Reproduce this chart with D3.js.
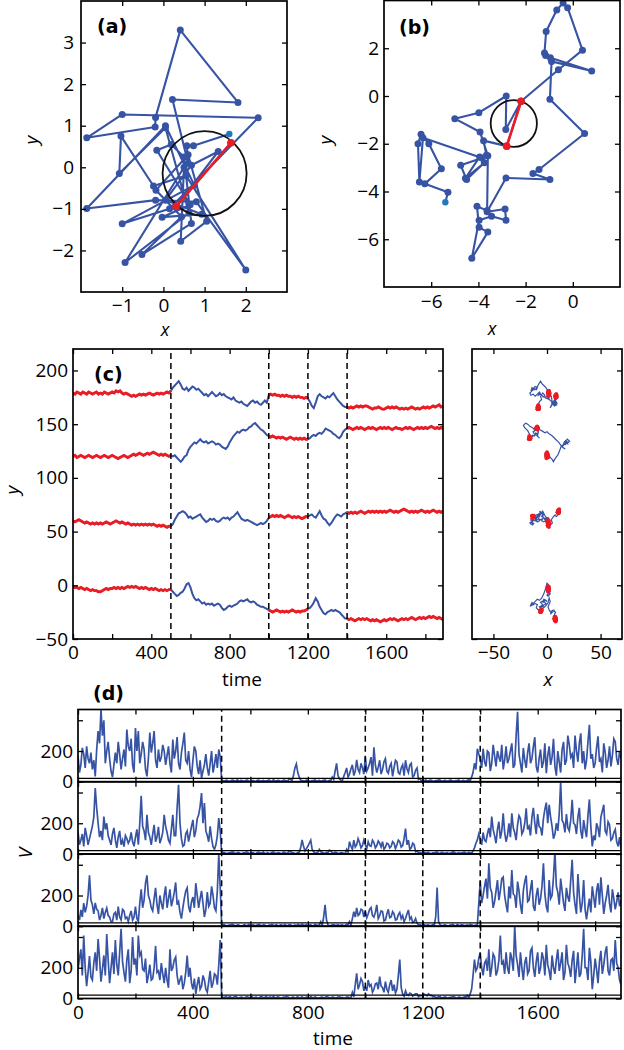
<!DOCTYPE html>
<html><head><meta charset="utf-8">
<script src="https://cdn.jsdelivr.net/npm/d3@7"></script>
<style>body{margin:0;background:#fff}svg{display:block}</style>
</head><body>
<svg id="fig" width="624" height="1050"></svg>
<script>
// ---------------- DATA ----------------
// (a) trajectory (x,y); first point = start, last two points = highlighted step
const trajA = [
[1.6,0.8],[0.73,0.52],[0.57,0.52],[0.6,0.1],[0.22,1.63],[1.81,1.56],[0.41,3.3],[-0.19,1.2],[-0.2,0.97],[-1.86,0.71],
[-1.0,1.27],[2.3,1.19],[0.15,-1.0],[-1.0,-1.36],[0.75,-0.43],[0.05,1.0],[-1.86,-0.99],[-0.19,-0.79],[0.8,-0.83],[2.0,-2.47],
[0.55,-0.2],[-0.24,-0.45],[-1.03,0.75],[-1.07,-0.15],[0.05,0.95],[0.62,-1.1],[-0.93,-2.29],[0.5,0.0],[0.42,-1.78],[1.05,-1.3],
[0.6,0.3],[-0.18,-0.55],[0.44,-1.19],[-0.52,-2.1],[0.68,-1.35],[0.5,0.25],[0.19,0.55],[-0.16,0.41],[0.65,-0.9],[-0.03,-1.2],
[0.93,-1.13],[0.05,-0.79],[0.68,0.05],[1.33,0.38],[0.31,-0.94],[1.64,0.59]];
const redStepA = [44,45];
const circleA = [1.0,-0.15,1.02]; // cx, cy, r (data units)

// (b) trajectory
const trajB = [
[-5.4,-4.45],[-5.29,-4.03],[-6.27,-3.68],[-5.57,-3.05],[-6.1,-2.0],[-6.43,-1.6],[-6.56,-2.0],[-6.5,-3.6],[-6.35,-1.75],[-3.85,-2.6],
[-4.75,-2.9],[-4.5,-3.5],[-3.75,-2.8],[-4.55,-3.45],[-3.95,-2.55],[-3.66,-2.48],[-3.78,-1.87],[-2.8,-2.1],[-2.19,-0.22],[-2.84,-1.4],
[-2.82,0.0],[-3.98,-0.7],[-5.0,-0.95],[-3.93,-1.51],[-3.6,-2.5],[-3.63,-4.8],[-4.06,-4.62],[-3.97,-5.5],[-3.6,-5.7],[-4.28,-6.8],
[-3.97,-5.2],[-3.44,-5.04],[-2.83,-5.2],[-2.87,-4.73],[-3.63,-4.85],[-2.83,-3.43],[-0.97,-3.5],[-1.69,-3.25],[-1.43,-3.08],[0.5,-1.57],
[-0.97,-0.14],[-0.9,1.45],[0.8,1.05],[-0.95,1.6],[-1.15,1.7],[-1.2,1.8],[-1.13,2.7],[-0.68,3.6],[-0.41,3.9],[-0.22,3.7],
[0.41,1.92],[-0.61,1.1],[-2.19,-0.22]];
const redStepB = [17,18];
const circleB = [-2.5,-1.15,0.98];

// (c) sampled every 10 time units, (d) every 5 time units, t = 0..1890
const TIME_STEP_C = 10, TIME_STEP_D = 5;
const switchTimes = [500,1000,1200,1400];
const redPeriods = [[0,500],[1000,1200],[1400,1890]];
const timeTicks = [0,200,400,600,800,1000,1200,1400,1600,1800];
const timeLabels = [0,400,800,1200,1600];

// (c) y positions of the four particles
const cY1 = [179,178,180,179,178,180,179,178,180,179,178,179,180,178,179,178,180,179,178,179,180,179,181,180,181,179,178,179,178,177,176,177,176,177,178,177,178,177,178,179,178,177,178,179,178,179,178,179,180,179,
181,184,186,188,190,187,183,182,184,181,183,185,184,182,183,181,179,177,178,176,178,180,178,176,177,179,177,178,176,175,174,173,175,172,171,170,171,169,168,167,169,171,172,170,171,169,168,170,172,170,
177,178,177,178,177,177,176,177,176,177,176,176,175,176,175,176,175,175,174,175,
174,171,167,165,170,176,178,176,175,174,176,175,177,179,176,173,171,169,167,166,
166,165,166,165,166,167,166,167,166,167,167,166,165,164,165,165,166,165,164,164,165,166,165,166,165,166,165,164,165,164,165,164,165,166,165,164,165,164,165,166,165,166,165,166,167,166,167,168,166,167];
const cY2 = [120,121,119,120,121,120,119,120,121,120,119,120,121,120,119,120,121,120,119,120,121,120,119,118,119,120,121,120,119,120,121,122,121,122,123,122,121,122,123,122,123,124,123,122,121,122,121,122,121,120,
121,120,121,119,117,115,117,120,121,126,129,131,133,132,134,136,134,133,134,132,133,134,133,131,132,131,129,128,127,129,133,136,139,141,143,142,144,145,144,145,147,148,150,151,149,147,145,144,142,140,
139,138,139,138,137,138,137,138,137,136,137,138,137,136,137,136,137,136,137,136,
136,137,139,140,139,141,142,141,143,146,145,144,143,141,140,138,137,139,143,145,
146,147,146,145,146,147,146,147,146,145,146,147,146,147,146,145,146,147,146,147,146,147,146,145,146,147,146,146,145,146,147,146,147,146,145,146,147,146,147,146,147,146,147,148,147,146,147,146,147,146];
const cY3 = [60,59,60,61,60,59,58,59,58,57,58,57,58,57,58,57,58,59,58,57,58,59,60,59,58,59,58,57,58,57,56,57,56,57,56,57,56,57,56,57,56,57,56,55,56,55,56,55,54,55,
55,57,61,64,67,68,69,68,66,63,64,62,63,64,65,66,63,61,59,60,62,61,62,60,59,60,62,63,62,63,61,63,64,66,68,65,62,61,60,61,60,59,58,57,56,57,58,57,58,60,
63,64,65,64,65,64,65,64,63,64,65,64,63,64,63,64,63,62,63,64,
64,65,66,64,63,66,69,65,62,61,58,56,58,61,64,66,65,64,66,67,
68,67,68,67,68,67,68,69,68,67,68,69,68,69,68,69,68,69,68,69,68,69,70,69,68,69,68,69,70,71,70,69,68,69,68,69,68,69,70,69,68,69,68,69,70,69,68,69,68,69];
const cY4 = [-1,-2,-2,-3,-2,-3,-4,-3,-4,-5,-4,-5,-5,-6,-6,-5,-4,-3,-4,-3,-3,-2,-3,-2,-3,-2,-3,-2,-1,-2,-1,-2,-1,-2,-3,-2,-3,-2,-3,-4,-3,-4,-3,-4,-5,-4,-5,-4,-5,-4,
-4,-6,-8,-10,-9,-7,-6,-3,1,2,-2,-8,-12,-14,-13,-15,-17,-16,-18,-17,-18,-17,-19,-18,-17,-18,-21,-23,-22,-20,-19,-20,-19,-18,-17,-15,-14,-15,-14,-13,-15,-16,-15,-16,-18,-19,-20,-20,-21,-22,
-23,-24,-25,-24,-23,-24,-25,-24,-25,-24,-25,-24,-23,-24,-25,-24,-25,-24,-24,-23,
-22,-21,-19,-16,-12,-15,-20,-23,-26,-27,-25,-24,-23,-24,-23,-24,-25,-27,-29,-31,
-31,-32,-31,-32,-33,-32,-31,-32,-31,-32,-31,-32,-33,-32,-33,-32,-33,-34,-33,-32,-33,-32,-31,-32,-31,-32,-33,-32,-31,-32,-31,-32,-31,-30,-31,-32,-31,-30,-31,-30,-31,-30,-29,-30,-29,-30,-31,-30,-31,-32];

// (c, right) x positions of the four particles
const cX1 = [1.6,2.1,1.2,1.8,2.4,1.5,1.0,1.9,2.3,1.4,1.7,2.2,1.1,1.6,2.0,1.3,1.8,2.5,1.5,1.2,1.9,2.2,1.4,1.7,2.1,1.0,1.6,2.3,1.8,1.3,1.5,2.0,1.2,1.9,2.4,1.6,1.1,1.8,2.2,1.4,1.7,2.1,1.3,1.6,2.0,1.5,1.9,1.2,1.7,1.4,
1,-1,-3,-5,-6,-8,-10,-12,-14,-15,-13,-11,-9,-10,-12,-14,-16,-15,-13,-11,-9,-7,-6,-4,-5,-7,-8,-6,-4,-2,0,2,1,3,5,4,6,8,9,7,5,6,8,9,7,6,8,9,8,7.5,
8.2,8.9,7.6,8.4,9.1,7.9,8.3,8.8,7.5,8.1,8.6,9.0,7.8,8.2,8.7,7.7,8.4,9.2,8.0,8.5,
8,6,4,3,5,4,2,0,-2,-1,-3,-4,-2,-4,-6,-5,-7,-8,-7,-8,
-8.2,-7.6,-8.8,-8.1,-7.4,-8.5,-9.0,-7.9,-8.3,-7.7,-8.6,-8.0,-7.5,-8.9,-8.2,-7.8,-8.4,-9.1,-7.6,-8.0,-8.7,-8.1,-7.3,-8.5,-8.0,-7.9,-8.6,-9.0,-8.2,-7.7,-8.4,-8.0,-7.5,-8.8,-8.3,-7.6,-8.5,-8.9,-8.1,-7.8,-8.3,-8.7,-7.9,-8.2,-8.6,-7.7,-8.4,-8.0,-8.8,-8.1];
const cX2 = [0.2,-0.5,0.7,0.1,-0.8,0.4,0.9,-0.3,0.0,0.6,-0.6,0.3,0.8,-0.2,0.5,-0.7,0.1,0.6,-0.4,0.2,0.9,-0.1,0.4,-0.6,0.7,0.0,-0.3,0.5,0.8,-0.5,0.3,-0.2,0.6,0.1,-0.7,0.4,0.8,-0.1,0.2,-0.4,0.5,0.0,-0.6,0.7,0.3,-0.2,0.6,-0.5,0.1,0.4,
0,1,2,3,5,6,7,9,10,12,13,15,16,18,17,19,21,20,18,19,17,16,18,17,15,16,14,15,17,14,11,8,5,2,0,-2,-5,-7,-9,-11,-14,-16,-18,-20,-22,-21,-19,-18,-17,-16,
-16.2,-15.5,-16.8,-16.0,-15.3,-16.5,-17.0,-15.8,-16.3,-15.6,-16.7,-16.1,-15.4,-16.9,-16.2,-15.7,-16.4,-17.1,-15.9,-16.3,
-16,-15,-13,-14,-12,-10,-11,-9,-8,-10,-12,-11,-13,-12,-10,-8,-7,-9,-8,-9,
-9.2,-8.6,-9.8,-9.1,-8.4,-9.5,-10.0,-8.9,-9.3,-8.7,-9.6,-9.0,-8.5,-9.9,-9.2,-8.8,-9.4,-10.1,-8.6,-9.0,-9.7,-9.1,-8.3,-9.5,-9.0,-8.9,-9.6,-10.0,-9.2,-8.7,-9.4,-9.0,-8.5,-9.8,-9.3,-8.6,-9.5,-9.9,-9.1,-8.8,-9.3,-9.7,-8.9,-9.2,-9.6,-8.7,-9.4,-9.0,-9.8,-9.1];
const cX3 = [1.1,0.6,1.5,0.9,1.8,1.2,0.4,1.0,1.6,0.7,1.3,0.8,1.7,1.1,0.5,1.4,0.9,1.8,1.2,0.6,1.0,1.5,0.7,1.3,1.9,1.1,0.5,1.2,1.6,0.8,1.4,0.9,1.7,1.0,0.6,1.3,1.8,0.8,1.1,1.5,0.7,1.2,1.6,0.9,1.4,1.0,0.5,1.3,1.7,1.1,
1,0,-2,-4,-3,-5,-7,-6,-8,-10,-12,-11,-13,-15,-14,-12,-10,-11,-9,-7,-8,-6,-4,-5,-3,-1,-2,0,2,1,-1,-3,-5,-4,-6,-8,-10,-9,-11,-13,-15,-14,-16,-15,-13,-14,-12,-13,-14,-13,
-13.2,-12.5,-13.8,-13.0,-12.4,-13.5,-14.0,-12.8,-13.3,-12.6,-13.7,-13.1,-12.4,-13.9,-13.2,-12.7,-13.4,-14.1,-12.9,-13.3,
-13,-11,-9,-7,-8,-6,-4,-2,0,2,1,3,5,4,6,8,7,9,10,10,
10.5,11.1,9.9,10.7,11.3,10.2,9.8,10.9,11.2,10.4,10.8,11.4,10.1,10.6,11.0,9.9,10.5,11.2,10.3,10.9,11.3,10.2,10.7,11.0,9.8,10.6,11.1,10.4,10.8,11.5,10.3,10.9,10.1,10.6,11.2,10.5,9.9,10.8,11.1,10.4,10.7,11.3,10.0,10.6,10.9,10.3,11.0,10.5,10.8,10.2];
const cX4 = [0.9,1.4,0.5,1.1,1.7,0.8,1.3,0.6,1.5,1.0,0.4,1.2,1.8,0.9,1.4,0.7,1.1,1.6,0.5,1.0,1.3,0.8,1.7,1.2,0.6,1.4,0.9,1.5,1.1,0.7,1.6,1.0,0.5,1.3,1.8,0.9,1.2,0.6,1.4,1.1,0.8,1.5,1.0,0.7,1.3,1.6,0.9,1.2,0.5,1.0,
1,2,3,1,0,2,3,2,1,0,-1,-3,-5,-7,-9,-11,-13,-14,-15,-13,-12,-14,-15,-13,-11,-9,-10,-8,-6,-7,-5,-3,-4,-2,-1,-3,-2,0,-1,-3,-4,-3,-5,-6,-4,-5,-6,-5,-6,-5,
-5.6,-5.0,-6.2,-5.4,-4.9,-6.0,-6.4,-5.3,-5.8,-5.1,-6.1,-5.5,-4.8,-6.3,-5.7,-5.2,-5.9,-6.5,-5.4,-5.7,
-5,-3,-1,1,2,3,1,2,4,3,5,4,6,5,7,6,8,7,8,7,
7.5,8.1,6.9,7.7,8.3,7.2,6.8,7.9,8.2,7.4,7.8,8.4,7.1,7.6,8.0,6.9,7.5,8.2,7.3,7.9,8.3,7.2,7.7,8.0,6.8,7.6,8.1,7.4,7.8,8.5,7.3,7.9,7.1,7.6,8.2,7.5,6.9,7.8,8.1,7.4,7.7,8.3,7.0,7.6,7.9,7.3,8.0,7.5,7.8,7.2];

// (d) V of the four particles, every 5 time units
const dV1 = [
170,60,110,220,180,90,230,150,120,190,80,140,35,210,330,250,470,300,400,120,
200,260,150,70,30,110,190,120,260,180,80,150,210,100,340,230,200,280,110,60,
350,200,330,120,180,260,210,80,35,150,320,190,250,330,140,90,210,130,160,240,
200,110,170,230,120,60,275,150,200,290,120,80,190,250,320,140,120,200,80,30,
140,230,200,100,50,140,24,70,110,180,90,40,120,200,60,110,180,90,210,160,
12,6,4,10,8,2,3,9,10,5,6,12,2,7,9,4,5,10,11,3,
4,8,7,2,3,11,10,5,6,9,2,6,8,12,5,3,12,7,3,9,
7,2,4,10,9,6,5,20,14,8,40,90,116,60,30,10,8,4,5,11,
10,3,4,8,7,12,3,6,9,4,6,10,12,3,5,9,8,30,15,70,
120,40,20,10,8,35,60,90,30,50,85,110,40,70,142,80,60,120,90,50,
164,70,90,120,160,40,224,110,60,95,140,50,80,130,150,70,55,100,120,35,
90,140,130,60,50,90,110,40,140,85,60,110,120,30,40,75,90,15,20,8,
8,4,12,6,5,10,9,3,3,8,7,12,11,5,4,9,8,2,6,11,
10,4,3,7,7,12,5,3,9,6,4,10,12,8,30,60,120,80,215,180,
150,90,215,130,100,200,190,70,120,240,170,100,200,160,130,240,80,140,230,120,
150,200,250,90,110,300,455,180,120,60,220,140,90,190,250,120,150,230,290,100,
60,150,210,90,130,250,55,170,230,110,160,280,100,40,200,130,60,210,260,110,
140,300,240,160,180,90,300,200,130,250,315,120,200,80,140,260,370,150,180,90,
120,220,295,130,150,60,250,190,90,140,230,100,170,280,260,150,110,200,150];
const dV2 = [
145,60,90,130,50,170,120,60,100,140,180,240,429,300,200,110,150,90,244,160,
200,120,90,60,130,170,92,40,110,150,60,90,48,120,100,70,90,140,80,50,
110,160,60,200,378,180,150,90,255,140,110,60,130,190,80,110,176,70,100,140,
255,180,140,90,70,160,255,120,120,300,450,200,100,50,60,130,150,80,130,180,
222,110,150,230,255,310,396,200,331,150,120,80,180,100,48,30,60,120,233,150,
6,11,10,4,3,8,8,13,12,5,4,9,9,3,2,7,7,12,11,4,
5,9,8,2,3,10,10,6,6,12,2,5,9,3,4,11,12,6,5,8,
7,4,3,12,10,5,6,20,14,9,8,3,4,10,9,40,92,50,20,35,
50,70,90,30,15,6,8,12,30,15,12,5,5,10,9,25,20,8,6,12,
10,3,4,9,8,5,3,30,12,80,50,30,90,45,60,100,75,40,55,90,
60,35,80,55,50,90,75,40,55,85,70,45,80,30,45,70,65,40,50,80,
70,35,60,90,80,45,55,100,165,60,90,30,40,70,60,15,20,8,10,5,
8,12,5,9,10,4,3,7,7,11,12,5,4,10,9,3,6,8,2,6,
8,13,11,4,5,9,3,7,9,12,6,3,10,8,4,20,40,70,92,130,
100,60,140,90,80,130,170,110,244,160,120,70,160,210,100,150,265,140,80,120,
200,110,265,170,140,90,190,250,230,130,150,200,297,160,180,120,240,300,200,130,
260,180,170,120,230,290,334,200,320,240,180,100,130,200,150,260,470,220,200,140,
260,170,150,220,353,200,190,130,240,300,150,100,220,160,110,250,355,180,50,120,
90,200,170,110,240,280,320,150,130,210,190,90,100,140,160,80,50,110,30];
const dV3 = [
72,40,106,60,151,90,130,200,331,170,140,80,152,110,100,40,70,120,50,90,
118,70,60,30,30,80,90,40,128,60,40,110,100,50,60,30,70,100,40,60,
128,50,30,150,240,120,170,280,331,200,170,120,100,180,250,140,80,200,150,110,
200,260,120,180,240,130,170,220,285,140,160,90,50,120,180,230,250,130,90,160,
190,120,280,200,120,180,230,150,60,110,223,130,150,260,200,120,100,230,466,250,
5,10,9,3,3,8,7,12,11,4,4,9,8,2,2,7,10,5,6,11,
3,8,9,4,5,10,12,6,4,9,7,3,2,8,8,12,6,3,10,5,
3,9,7,2,11,5,4,10,9,3,5,8,2,11,8,4,12,6,6,10,
4,7,9,3,3,12,7,5,10,30,5,60,139,40,8,3,4,9,11,6,
6,10,3,8,9,4,5,12,12,30,7,50,95,60,120,70,80,110,105,60,
100,55,80,110,122,70,60,90,139,50,70,100,95,35,40,80,110,55,60,95,
80,40,45,75,90,50,70,30,50,80,106,45,60,25,30,50,20,10,10,6,
6,10,3,7,9,4,5,11,8,60,252,30,10,5,4,9,7,3,2,8,
9,12,5,3,11,7,3,10,8,4,6,9,4,12,10,5,5,8,7,150,
295,150,200,260,310,180,410,250,220,120,160,230,300,170,230,310,320,200,140,90,
260,180,365,210,200,120,290,230,140,80,230,290,330,160,170,240,300,130,100,200,
250,140,180,260,410,210,130,90,300,180,200,320,490,260,220,140,310,230,150,100,
250,190,160,300,432,220,140,80,340,200,90,150,300,110,45,120,180,90,260,190,
120,230,280,140,318,200,80,150,200,270,150,90,240,180,110,160,220,130,170];
const dV4 = [
187,260,320,150,409,200,80,170,276,140,120,230,300,180,387,260,110,190,280,150,
420,250,100,200,300,160,380,220,150,300,453,240,170,110,250,320,100,180,400,220,
260,150,409,280,300,190,180,260,100,150,220,120,130,200,342,170,180,120,230,160,
100,200,120,70,320,180,200,250,270,150,90,120,150,60,100,170,280,140,200,100,
60,130,30,90,140,60,80,150,120,60,40,110,180,70,100,160,150,90,220,380,
15,6,8,12,4,9,10,3,6,11,12,5,3,8,9,2,5,10,11,4,
7,12,2,6,8,3,4,10,10,5,6,12,3,8,9,4,12,6,5,10,
8,3,4,9,7,12,11,5,3,8,9,2,6,11,2,7,10,4,5,9,
8,3,12,6,4,10,7,2,3,8,9,5,6,12,10,4,5,9,8,3,
4,10,11,5,7,2,3,9,9,5,6,40,12,90,164,60,90,130,110,50,
76,50,120,80,90,40,60,95,100,60,142,80,70,40,110,60,40,90,120,50,
90,35,60,150,253,70,30,15,50,25,20,35,30,15,25,30,30,12,20,18,
20,28,25,18,30,20,22,12,15,6,8,11,12,4,5,9,9,3,4,8,
7,12,10,5,3,9,8,4,6,11,9,20,4,30,60,150,253,180,200,260,
298,200,150,230,250,180,320,140,200,290,270,150,180,250,409,220,240,160,300,200,
160,300,260,180,475,280,220,140,300,200,120,230,270,160,180,310,330,200,140,240,
300,160,200,300,260,150,350,220,180,120,280,200,160,250,320,180,230,300,120,170,
350,230,200,140,250,310,100,200,300,140,160,280,453,200,200,120,330,240,60,150,
260,190,100,240,310,160,220,300,340,180,150,250,260,180,380,230,200,120,90];
const dThreshold = 21.5; // horizontal reference line drawn in every (d) subplot

// ---------------- DRAWING ----------------
const BLUE = "#3753a4", RED = "#ec1c24", START = "#1f78c0";
const FONT = "'Open Sans', sans-serif", FS = 19, TL = 5;
const BFONT = "'DejaVu Sans', sans-serif";
const svg = d3.select("#fig");
const defs = svg.append("defs");
let clipN = 0;
function clip(x, y) {
  const id = "clip" + (clipN++);
  const [xl, xr] = x.range(), [yb, yt] = y.range();
  defs.append("clipPath").attr("id", id).append("rect")
    .attr("x", xl).attr("y", yt).attr("width", xr - xl).attr("height", yb - yt);
  return `url(#${id})`;
}
const fmt = d3.format("d");
function drawAxes(g, x, y, o) {
  const [xl, xr] = x.range(), [yb, yt] = y.range();
  const none = () => "";
  const list = [
    [d3.axisBottom(x).tickValues(o.xt).tickFormat(o.xf || none).tickPadding(o.xpad || 8), `translate(0,${yb})`],
    [d3.axisTop(x).tickValues(o.xt).tickFormat(none), `translate(0,${yt})`],
    [d3.axisLeft(y).tickValues(o.yt).tickFormat(o.yf || none).tickPadding(o.ypad || 5), `translate(${xl},0)`],
    [d3.axisRight(y).tickValues(o.yt).tickFormat(none), `translate(${xr},0)`]
  ];
  list.forEach(([a, tr]) => {
    const gg = g.append("g").attr("transform", tr).call(a.tickSizeInner(-TL).tickSizeOuter(0));
    gg.select(".domain").remove();
    gg.attr("font-family", FONT).attr("font-size", FS);
    gg.selectAll("line").attr("stroke", "#000").attr("stroke-width", 1.3);
    gg.selectAll("text").attr("fill", "#000");
  });
  g.append("rect").attr("x", xl).attr("y", yt).attr("width", xr - xl).attr("height", yb - yt)
    .attr("fill", "none").attr("stroke", "#000").attr("stroke-width", 1.7);
}
function label(txt, x, y, o = {}) {
  const t = svg.append("text").text(txt)
    .attr("font-family", o.bold ? BFONT : FONT).attr("font-size", o.size || FS)
    .attr("font-style", o.italic ? "italic" : "normal")
    .attr("font-weight", o.bold ? "bold" : "normal")
    .attr("text-anchor", o.anchor || "middle").attr("fill", "#000");
  if (o.rot) t.attr("transform", `translate(${x},${y}) rotate(-90)`);
  else t.attr("x", x).attr("y", y);
}

// --- trajectory panels (a), (b)
function trajPanel(traj, redStep, circ, x, y, o) {
  const g = svg.append("g");
  const pg = g.append("g").attr("clip-path", clip(x, y));
  const line = d3.line().x(d => x(d[0])).y(d => y(d[1]));
  pg.append("path").attr("d", line(traj)).attr("fill", "none").attr("stroke", BLUE).attr("stroke-width", 2.1).attr("stroke-linejoin", "round");
  pg.selectAll("circle.p").data(traj.slice(1)).join("circle").attr("class", "p")
    .attr("cx", d => x(d[0])).attr("cy", d => y(d[1])).attr("r", 3.5).attr("fill", BLUE);
  pg.append("circle").attr("cx", x(traj[0][0])).attr("cy", y(traj[0][1])).attr("r", 3.2).attr("fill", START);
  pg.append("ellipse").attr("cx", x(circ[0])).attr("cy", y(circ[1]))
    .attr("rx", x(circ[0] + circ[2]) - x(circ[0])).attr("ry", y(circ[1]) - y(circ[1] + circ[2]))
    .attr("fill", "none").attr("stroke", "#111").attr("stroke-width", 1.8);
  const rs = redStep.map(i => traj[i]);
  pg.append("path").attr("d", line(rs)).attr("stroke", RED).attr("stroke-width", 2.6);
  pg.selectAll("circle.r").data(rs).join("circle").attr("class", "r")
    .attr("cx", d => x(d[0])).attr("cy", d => y(d[1])).attr("r", 3.8).attr("fill", RED);
  drawAxes(g, x, y, o);
}
const xA = d3.scaleLinear([-2, 3], [81, 287]), yA = d3.scaleLinear([-3, 4], [292, 1]);
trajPanel(trajA, redStepA, circleA, xA, yA, {xt: [-1, 0, 1, 2], yt: [-2, -1, 0, 1, 2, 3], xf: fmt, yf: fmt, xpad: 7, ypad: 7});
const xB = d3.scaleLinear([-8, 2], [384, 620]), yB = d3.scaleLinear([-8, 4], [287, 0.5]);
trajPanel(trajB, redStepB, circleB, xB, yB, {xt: [-6, -4, -2, 0], yt: [-6, -4, -2, 0, 2], xf: fmt, yf: fmt, xpad: 8, ypad: 5});
label("(a)", 97, 33, {bold: true, anchor: "start"});
label("(b)", 399, 34, {bold: true, anchor: "start"});
label("x", 165, 336, {italic: true, size: 18});
label("y", 38, 140, {italic: true, rot: true});
label("x", 492, 335, {italic: true, size: 18});
label("y", 332, 140, {italic: true, rot: true});

// --- (c) time series
const cYs = [cY1, cY2, cY3, cY4], cXs = [cX1, cX2, cX3, cX4];
const isRed = t => redPeriods.some(([a, b]) => t >= a && t <= b);
const xC = d3.scaleLinear([0, 1890], [73, 443]), yC = d3.scaleLinear([-50, 220], [639, 349]);
{
  const g = svg.append("g");
  const pg = g.append("g").attr("clip-path", clip(xC, yC));
  const line = d3.line().x(d => xC(d[0])).y(d => yC(d[1]));
  cYs.forEach(s => {
    const pts = s.map((v, i) => [i * TIME_STEP_C, v]);
    pg.append("path").attr("d", line(pts)).attr("fill", "none").attr("stroke", BLUE).attr("stroke-width", 2.0);
    redPeriods.forEach(([a, b]) => {
      pg.append("path").attr("d", line(pts.filter(p => p[0] >= a && p[0] <= b)))
        .attr("fill", "none").attr("stroke", RED).attr("stroke-width", 2.9);
    });
  });
  pg.selectAll("line.sw").data(switchTimes).join("line").attr("class", "sw")
    .attr("x1", d => xC(d)).attr("x2", d => xC(d)).attr("y1", yC.range()[0]).attr("y2", yC.range()[1])
    .attr("stroke", "#000").attr("stroke-width", 1.5).attr("stroke-dasharray", "6,4");
  drawAxes(g, xC, yC, {xt: timeTicks, yt: [-50, 0, 50, 100, 150, 200],
    xf: d => timeLabels.includes(d) ? fmt(d) : "", yf: fmt, xpad: 6, ypad: 5});
}
label("(c)", 94, 381, {bold: true, anchor: "start"});
label("time", 242, 686);
label("y", 19, 490, {italic: true, rot: true});

// --- (c, right) x-y traces
const xR = d3.scaleLinear([-70, 70], [472, 622]), yR = yC.copy().range([639, 349]);
{
  const g = svg.append("g");
  const pg = g.append("g").attr("clip-path", clip(xR, yR));
  const line = d3.line().x(d => xR(d[0])).y(d => yR(d[1]));
  cYs.forEach((s, k) => {
    const pts = s.map((v, i) => [cXs[k][i], v, i * TIME_STEP_C]);
    pg.append("path").attr("d", line(pts)).attr("fill", "none").attr("stroke", BLUE).attr("stroke-width", 1.2);
    pg.selectAll(null).data(pts.filter(p => isRed(p[2]))).join("circle")
      .attr("cx", d => xR(d[0])).attr("cy", d => yR(d[1])).attr("r", 1.8).attr("fill", RED);
  });
  drawAxes(g, xR, yR, {xt: [-50, 0, 50], yt: [-50, 0, 50, 100, 150, 200], xf: fmt, xpad: 6});
}
label("x", 548, 686, {italic: true});

// --- (d) four V panels
const dVs = [dV1, dV2, dV3, dV4];
const xD = d3.scaleLinear([0, 1890], [78, 621]);
const dTop = 709.5, dH = 72.25;
dVs.forEach((s, k) => {
  const yD = d3.scaleLinear([0, 470], [dTop + (k + 1) * dH, dTop + k * dH]);
  const g = svg.append("g");
  const pg = g.append("g").attr("clip-path", clip(xD, yD));
  const line = d3.line().x((d, i) => xD(i * TIME_STEP_D)).y(d => yD(d));
  pg.append("path").attr("d", line(s)).attr("fill", "none").attr("stroke", BLUE).attr("stroke-width", 1.7);
  pg.append("line").attr("x1", xD.range()[0]).attr("x2", xD.range()[1])
    .attr("y1", yD(dThreshold)).attr("y2", yD(dThreshold)).attr("stroke", "#000").attr("stroke-width", 1.3);
  pg.selectAll("line.sw").data(switchTimes).join("line").attr("class", "sw")
    .attr("x1", d => xD(d)).attr("x2", d => xD(d)).attr("y1", yD.range()[0]).attr("y2", yD.range()[1])
    .attr("stroke", "#000").attr("stroke-width", 1.5).attr("stroke-dasharray", "6,4");
  drawAxes(g, xD, yD, {xt: timeTicks, yt: [0, 200, 400],
    xf: k === 3 ? (d => timeLabels.includes(d) ? fmt(d) : "") : null,
    yf: d => d === 400 ? "" : fmt(d), xpad: 7, ypad: 5});
});
label("(d)", 93, 700, {bold: true, anchor: "start"});
label("time", 333, 1045);
label("V", 32, 853, {italic: true, rot: true});
</script>
</body></html>
